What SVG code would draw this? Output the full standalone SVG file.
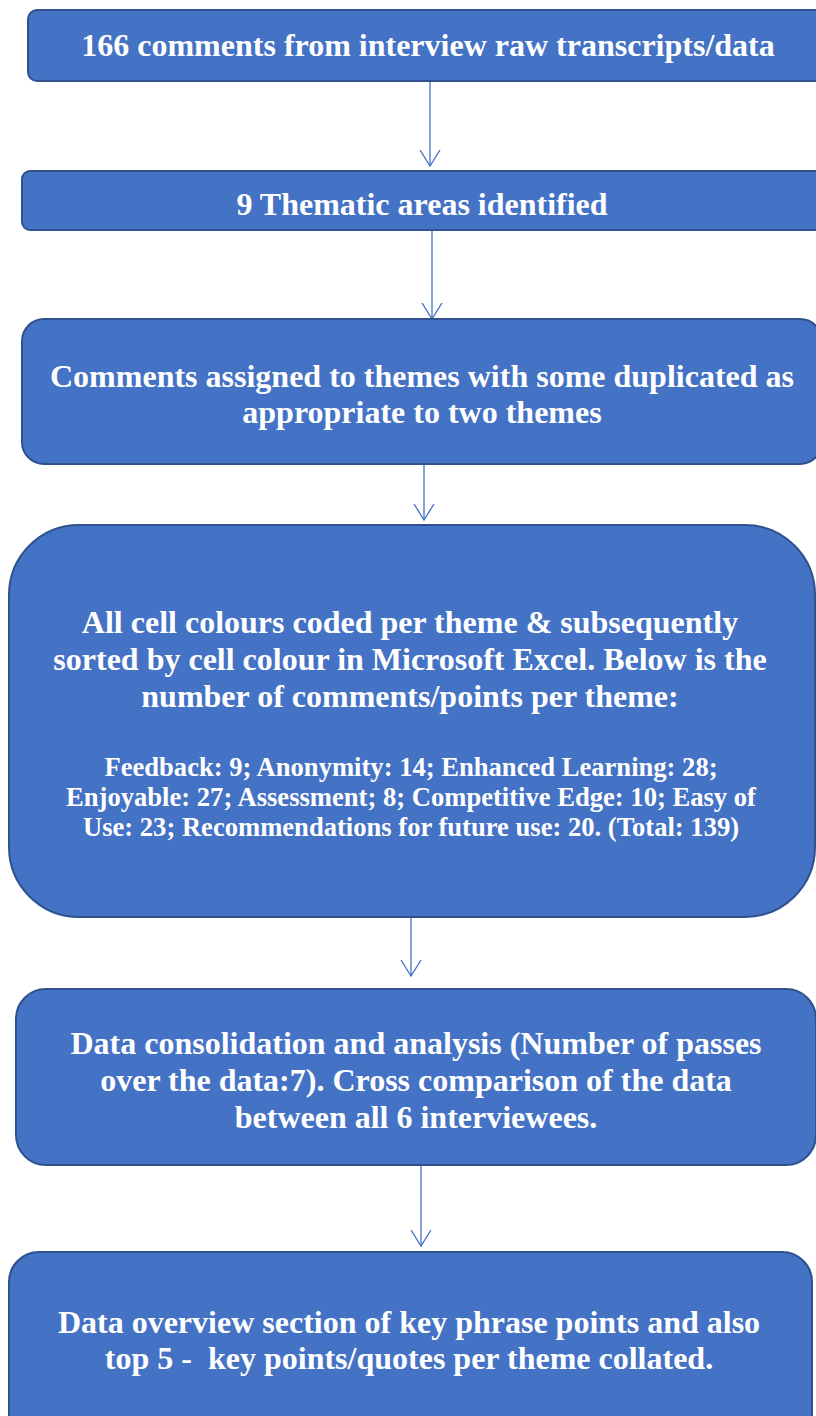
<svg xmlns="http://www.w3.org/2000/svg" width="816" height="1416" viewBox="0 0 816 1416">
<defs>
<style>
.box{fill:#4472C4;stroke:#2F528F;stroke-width:2}
.t{font-family:"Liberation Serif","Times New Roman",serif;font-weight:bold;fill:#FFFFFF;text-anchor:middle;font-size:32px;white-space:pre}
.s{font-size:26.6px}
.c{stroke:#4472C4;stroke-width:1.3;fill:none}
</style>
<marker id="ah" markerWidth="24" markerHeight="24" refX="16" refY="12" orient="auto" markerUnits="userSpaceOnUse" viewBox="0 0 24 24">
<path d="M0,2 L16,12 L0,22" fill="none" stroke="#4472C4" stroke-width="1.3"/>
</marker>
</defs>
<rect width="816" height="1416" fill="#FFFFFF"/>
<g id="connectors">
<line class="c" x1="430" y1="81" x2="430" y2="166" marker-end="url(#ah)"/>
<line class="c" x1="432" y1="230" x2="432" y2="319" marker-end="url(#ah)"/>
<line class="c" x1="424" y1="464" x2="424" y2="520" marker-end="url(#ah)"/>
<line class="c" x1="411" y1="917" x2="411" y2="976" marker-end="url(#ah)"/>
<line class="c" x1="421" y1="1165" x2="421" y2="1246" marker-end="url(#ah)"/>
</g>
<g id="node1">
<rect class="box" x="28" y="10" width="810" height="71" rx="9"/>
<text class="t" x="428" y="56">166 comments from interview raw transcripts/data</text>
</g>
<g id="node2">
<rect class="box" x="22" y="171" width="816" height="59" rx="8"/>
<text class="t" x="422" y="215">9 Thematic areas identified</text>
</g>
<g id="node3">
<rect class="box" x="22" y="319" width="800" height="145" rx="22"/>
<text class="t" x="422" y="387">Comments assigned to themes with some duplicated as</text>
<text class="t" x="422" y="423">appropriate to two themes</text>
</g>
<g id="node4">
<rect class="box" x="9" y="525" width="806" height="392" rx="70"/>
<text class="t" x="410" y="633">All cell colours coded per theme &amp; subsequently</text>
<text class="t" x="410" y="670">sorted by cell colour in Microsoft Excel. Below is the</text>
<text class="t" x="410" y="707">number of comments/points per theme:</text>
<text class="t s" x="411" y="776">Feedback: 9; Anonymity: 14; Enhanced Learning: 28;</text>
<text class="t s" x="411" y="806">Enjoyable: 27; Assessment; 8; Competitive Edge: 10; Easy of</text>
<text class="t s" x="411" y="836">Use: 23; Recommendations for future use: 20. (Total: 139)</text>
</g>
<g id="node5">
<rect class="box" x="16" y="989" width="800" height="176" rx="30"/>
<text class="t" x="416" y="1054">Data consolidation and analysis (Number of passes</text>
<text class="t" x="416" y="1091">over the data:7). Cross comparison of the data</text>
<text class="t" x="416" y="1128">between all 6 interviewees.</text>
</g>
<g id="node6">
<rect class="box" x="9" y="1252" width="803" height="200" rx="30"/>
<text class="t" x="409" y="1333">Data overview section of key phrase points and also</text>
<text class="t" x="409" y="1369">top 5 -  key points/quotes per theme collated.</text>
</g>
</svg>
